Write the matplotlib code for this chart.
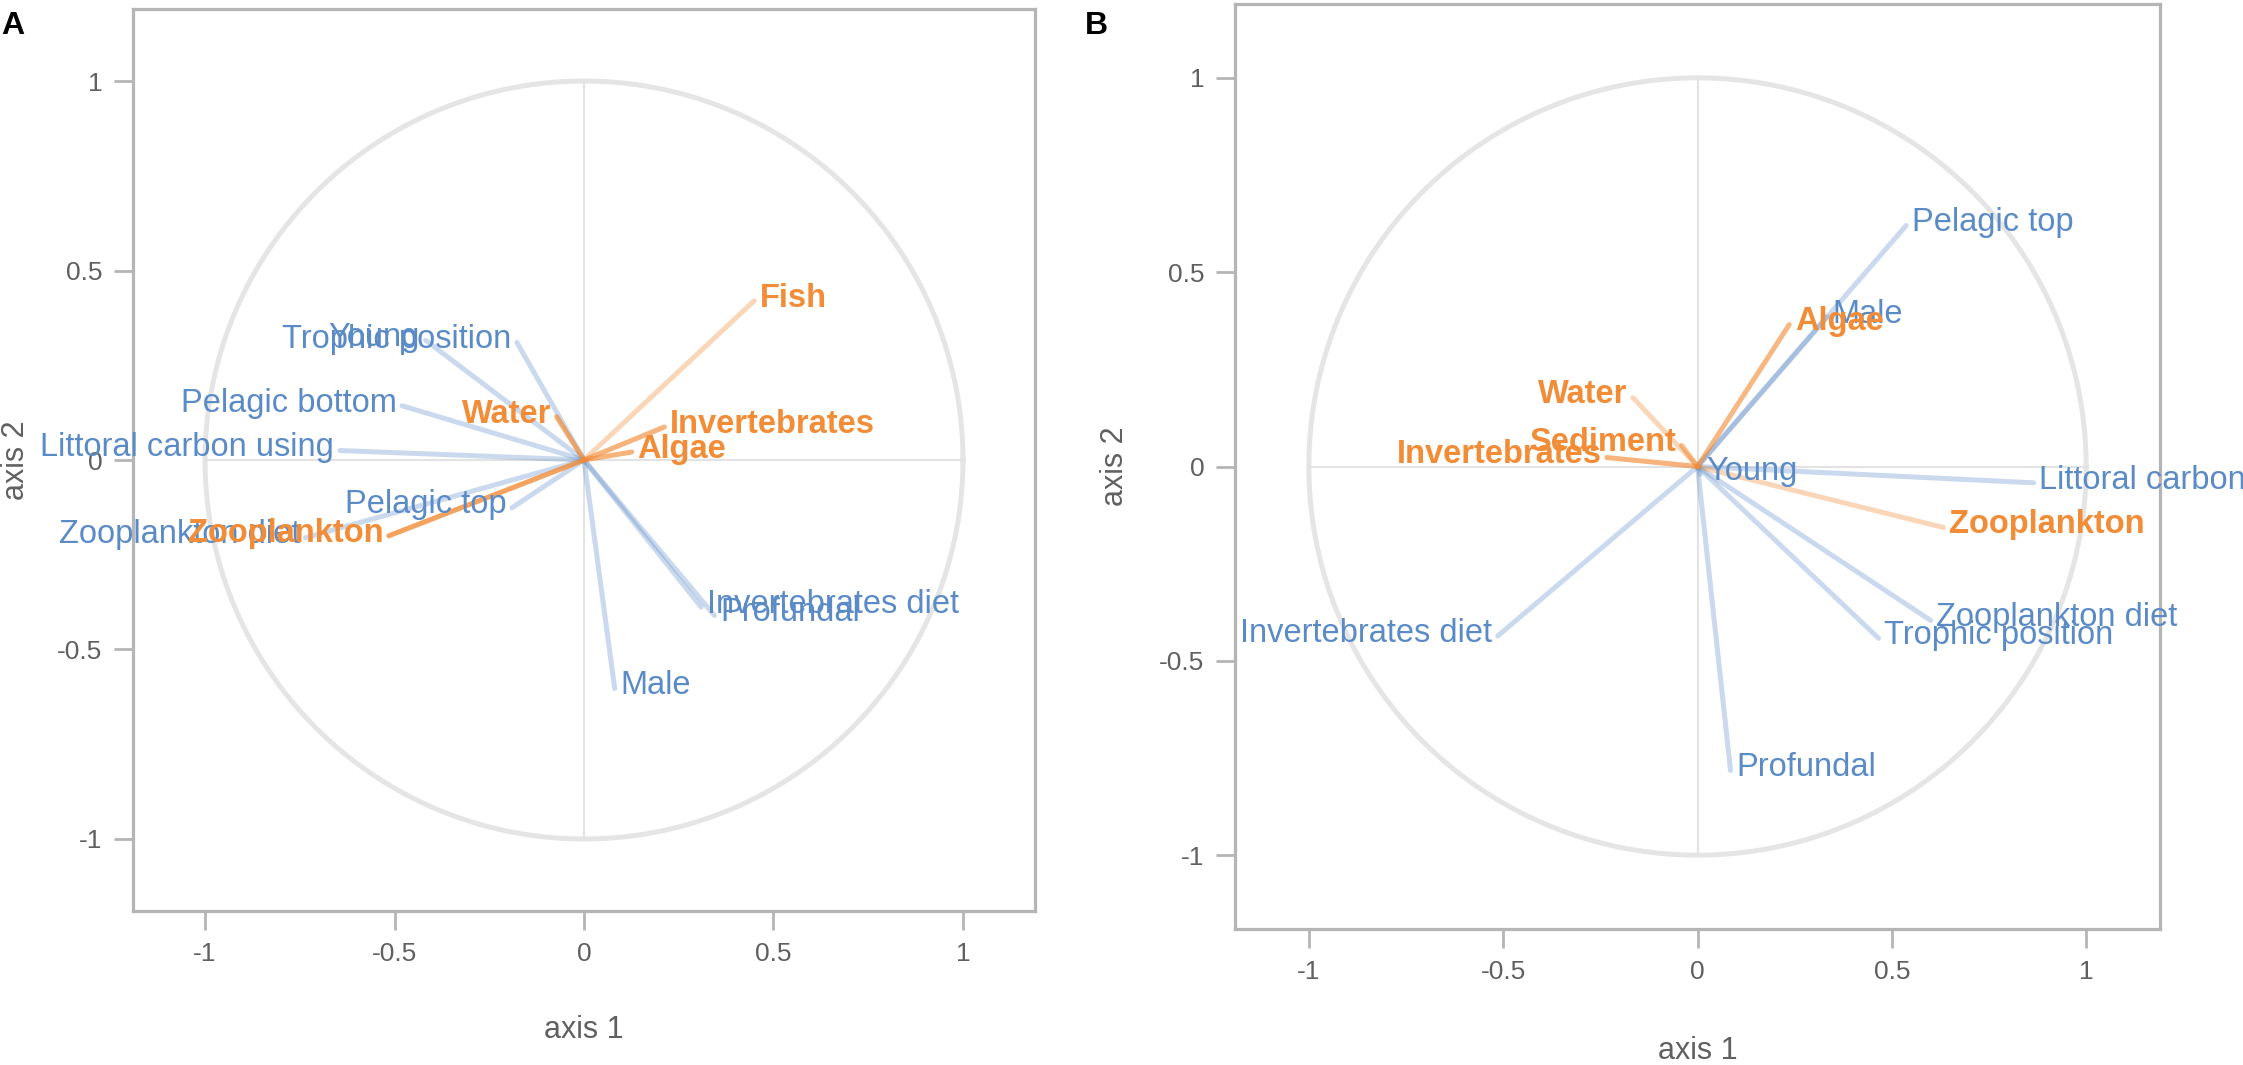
import numpy as np
import matplotlib
matplotlib.use("Agg")
import matplotlib.pyplot as plt

plt.rcParams['font.family'] = ['Liberation Sans', 'DejaVu Sans']
plt.rcParams['axes.unicode_minus'] = False

# panel A - diet/habitat variables (blue)
var_names_a = ["Young", "Trophic position", "Pelagic bottom", "Littoral carbon using",
               "Pelagic top", "Zooplankton diet", "Invertebrates diet", "Profundal", "Male"]
var_x_a = [-0.418, -0.177, -0.48, -0.644, -0.19, -0.735, 0.309, 0.344, 0.081]
var_y_a = [0.316, 0.31, 0.143, 0.025, -0.126, -0.205, -0.388, -0.41, -0.603]

# panel A - food sources (orange), weight = line opacity
env_names_a = ["Water", "Zooplankton", "Invertebrates", "Algae", "Fish"]
env_x_a = [-0.072, -0.515, 0.212, 0.126, 0.449]
env_y_a = [0.114, -0.2, 0.087, 0.021, 0.42]
env_weight_a = [0.7, 0.8, 0.65, 0.65, 0.35]

# panel B
var_names_b = ["Pelagic top", "Male", "Young", "Littoral carbon using", "Zooplankton diet",
               "Trophic position", "Invertebrates diet", "Profundal"]
var_x_b = [0.537, 0.333, 0.007, 0.865, 0.6, 0.466, -0.514, 0.085]
var_y_b = [0.62, 0.385, -0.02, -0.042, -0.396, -0.442, -0.436, -0.782]

env_names_b = ["Algae", "Water", "Sediment", "Invertebrates", "Zooplankton"]
env_x_b = [0.236, -0.166, -0.041, -0.233, 0.633]
env_y_b = [0.365, 0.177, 0.054, 0.023, -0.157]
env_weight_b = [0.62, 0.35, 0.6, 0.65, 0.35]

ticks = [-1, -0.5, 0, 0.5, 1]
tick_labels = ["-1", "-0.5", "0", "0.5", "1"]

blue = '#5b8bc7'
orange = '#f28c36'
grey = '#b5b5b5'
text_grey = '#606060'
lim = 1.19


def draw_panel(ax, var_names, var_x, var_y, env_names, env_x, env_y, env_weight):
    t = np.linspace(0, 2 * np.pi, 500)
    ax.plot(np.cos(t), np.sin(t), color='#e5e5e5', lw=3.6, zorder=1)
    ax.plot([-1, 1], [0, 0], color='#e3e3e3', lw=1.5, zorder=1)
    ax.plot([0, 0], [-1, 1], color='#e3e3e3', lw=1.5, zorder=1)

    for x, y in zip(var_x, var_y):
        ax.plot([0, x], [0, y], color=blue, alpha=0.32, lw=3.6,
                solid_capstyle='round', zorder=2)
    for x, y, w in zip(env_x, env_y, env_weight):
        ax.plot([0, x], [0, y], color=orange, alpha=w, lw=3.6,
                solid_capstyle='round', zorder=3)

    for name, x, y in zip(var_names, var_x, var_y):
        right = x >= 0
        ax.annotate(name, (x, y), xytext=(4 if right else -4, 2), textcoords='offset points',
                    ha='left' if right else 'right', va='center', fontsize=23.5,
                    color=blue, zorder=4, annotation_clip=False)
    for name, x, y in zip(env_names, env_x, env_y):
        right = x >= 0
        ax.annotate(name, (x, y), xytext=(4 if right else -4, 2), textcoords='offset points',
                    ha='left' if right else 'right', va='center', fontsize=23.5,
                    fontweight='bold', color=orange, zorder=5, annotation_clip=False)

    ax.set_xlim(-lim, lim)
    ax.set_ylim(-lim, lim)
    ax.set_xticks(ticks)
    ax.set_xticklabels(tick_labels)
    ax.set_yticks(ticks)
    ax.set_yticklabels(tick_labels)
    ax.tick_params(direction='out', length=14, width=2, color=grey,
                   labelcolor=text_grey, labelsize=19, pad=8)
    for sp in ax.spines.values():
        sp.set_color(grey)
        sp.set_linewidth(2.3)

    ax.set_xlabel("axis 1", fontsize=22, color=text_grey)
    ax.xaxis.set_label_coords(0.5, -0.132)
    ax.xaxis.label.set_verticalalignment('center')
    ax.set_ylabel("axis 2", fontsize=22, color=text_grey)
    ax.yaxis.set_label_coords(-0.13, 0.5)
    ax.yaxis.label.set_verticalalignment('center')
    ax.yaxis.label.set_horizontalalignment('center')


fig = plt.figure(figsize=(22.43, 10.65), dpi=100)
ax_a = fig.add_axes([133 / 2243, 1 - 911 / 1065, 902 / 2243, 902 / 1065])
ax_b = fig.add_axes([1235 / 2243, 1 - 929 / 1065, 925 / 2243, 925 / 1065])

draw_panel(ax_a, var_names_a, var_x_a, var_y_a, env_names_a, env_x_a, env_y_a, env_weight_a)
draw_panel(ax_b, var_names_b, var_x_b, var_y_b, env_names_b, env_x_b, env_y_b, env_weight_b)

fig.text(1 / 2243, 1 - 26 / 1065, "A", fontsize=23, fontweight='bold', ha='left', va='center')
fig.text(1085 / 2243, 1 - 26 / 1065, "B", fontsize=23, fontweight='bold', ha='left', va='center')

fig.savefig("out.png", dpi=100)
